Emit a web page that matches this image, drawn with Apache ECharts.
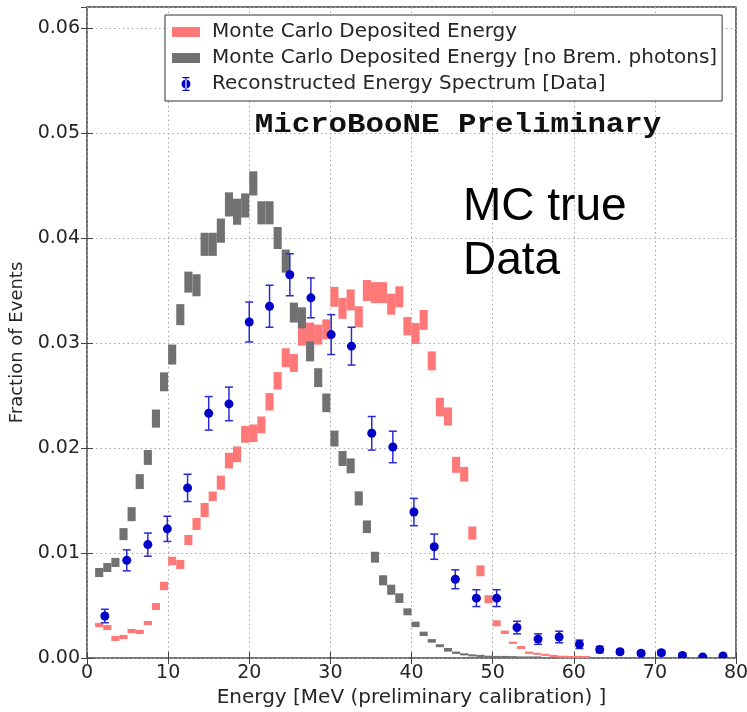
<!DOCTYPE html>
<html>
<head>
<meta charset="utf-8">
<script src="https://cdn.jsdelivr.net/npm/echarts@6/dist/echarts.min.js"></script>
<style>
html,body{margin:0;padding:0;background:#fff;}
#chart{width:747px;height:712px;}
</style>
</head>
<body>
<div id="chart"></div>
<script>
// ---- data ----
const mcBinWidth = 1; // MeV
const mcBinLow = [1,2,3,4,5,6,7,8,9,10,11,12,13,14,15,16,17,18,19,20,21,22,23,24,25,26,27,28,29,30,
  31,32,33,34,35,36,37,38,39,40,41,42,43,44,45,46,47,48,49,50,51,52,53,54,55,56,57,58,59,60,61];

const mcDepVal = [0.00314,0.0029,0.00186,0.0020,0.00257,0.00248,0.00333,0.0049,0.00686,0.00924,
  0.0089,0.01124,0.01276,0.0141,0.0154,0.0167,0.0188,0.0194,0.0213,0.0214,
  0.0222,0.0244,0.0264,0.0286,0.0281,0.0307,0.0310,0.0308,0.0313,0.0344,
  0.0333,0.0341,0.0325,0.0350,0.0348,0.0348,0.0337,0.0344,0.0316,0.0309,
  0.0322,0.0283,0.0239,0.0230,0.0184,0.0175,0.0119,0.0083,0.0056,0.0033,
  0.00245,0.00145,0.0010,0.0005,0.0004,0.0003,0.0002,0.00012,0.0001,0.0001,0.0001];
const mcDepErr = [0.0002,0.00024,0.00024,0.0002,0.0002,0.0002,0.0002,0.00033,0.0004,0.0004,
  0.00043,0.00048,0.00057,0.00067,0.00045,0.00067,0.00075,0.00075,0.0008,0.00084,
  0.0008,0.00083,0.00083,0.0009,0.00085,0.00095,0.00095,0.00095,0.00095,0.00095,
  0.001,0.001,0.001,0.001,0.001,0.001,0.001,0.001,0.00087,0.001,
  0.00095,0.0009,0.00089,0.00086,0.00076,0.0007,0.00062,0.00052,0.00038,0.00029,
  0.00016,0.00011,0.00014,0.00011,0.0001,0.0001,0.0001,0.0001,0.0001,0.0001,0.0001];

const mcNoBremVal = [0.00814,0.00862,0.0091,0.0118,0.0137,0.0168,0.0191,0.0228,0.0263,0.0289,
  0.0327,0.0358,0.0355,0.0394,0.0394,0.0407,0.0432,0.0425,0.0431,0.0452,
  0.0424,0.0424,0.0400,0.0378,0.0329,0.0324,0.0292,0.0267,0.0243,0.0209,
  0.0190,0.0183,0.0152,0.0125,0.0096,0.0074,0.0065,0.0057,0.0044,0.0032,
  0.0023,0.00163,0.00117,0.00078,0.0005,0.00035,0.00025,0.0002,0.00012,0.0001,
  0.0001,0.00008,0.00005,0.00005,0.00005];
const mcNoBremErr = [0.00043,0.00043,0.00043,0.00057,0.00067,0.00071,0.00071,0.00086,0.0009,0.00095,
  0.001,0.001,0.00105,0.0011,0.0011,0.00115,0.00115,0.00124,0.00115,0.00115,
  0.0011,0.0011,0.00105,0.0011,0.00095,0.001,0.00095,0.0009,0.00089,0.00076,
  0.00071,0.00071,0.00067,0.0006,0.00052,0.00048,0.00048,0.00046,0.00033,0.00026,
  0.00021,0.00017,0.00014,0.00017,0.00011,0.0001,0.0001,0.0001,0.0001,0.0001,
  0.0001,0.0001,0.0001,0.0001,0.0001];

const dataE = [2.2,4.9,7.5,9.9,12.4,15.0,17.5,20.0,22.5,25.0,27.6,30.1,32.6,35.1,37.7,40.3,
  42.8,45.4,48.0,50.5,53.0,55.6,58.2,60.7,63.2,65.7,68.3,70.8,73.4,75.9,78.4];
const dataVal = [0.0040,0.0093,0.0108,0.0123,0.0162,0.0233,0.0242,0.0320,0.0335,0.0365,0.0343,
  0.0308,0.0297,0.0214,0.0201,0.0139,0.0106,0.0075,0.0057,0.0057,0.0029,0.0018,0.0020,
  0.0013,0.0008,0.0006,0.00045,0.0005,0.00025,0.0001,0.0002];
const dataErr = [0.00064,0.0010,0.0011,0.0012,0.0013,0.0016,0.0016,0.0019,0.0020,0.0020,0.0019,
  0.0019,0.0018,0.0016,0.0015,0.0013,0.0012,0.0009,0.0008,0.0008,0.0006,0.0005,0.00055,
  0.0004,0.0003,0.0002,0.0002,0.0002,0.00015,0.0001,0.0001];

const xTicks = [0,10,20,30,40,50,60,70,80];
const yTicks = [0.00,0.01,0.02,0.03,0.04,0.05,0.06];

// ---- styles ----
const RED = '#ff7878';
const GRAY = '#717171';
const BLUE = '#0000c8';
const BLUE_BAR = '#2a2ad4';
const TXT = '#262626';
const FONT = '"DejaVu Sans", sans-serif';

function boxSeriesData(lows, vals, errs) {
  return vals.map((v, i) => [lows[i], mcBinWidth, v, errs[i]]);
}
function boxRender(color) {
  return function (params, api) {
    const x0 = api.value(0), w = api.value(1), v = api.value(2), e = api.value(3);
    const p0 = api.coord([x0, v - e]);
    const p1 = api.coord([x0 + w, v + e]);
    const h = Math.max(p0[1] - p1[1], 1.5);
    return {
      type: 'rect',
      shape: { x: p0[0], y: p0[1] - h, width: p1[0] - p0[0], height: h },
      style: { fill: color }
    };
  };
}
function dataRender(params, api) {
  const x = api.value(0), v = api.value(1), e = api.value(2);
  const c = api.coord([x, v]);
  const t = api.coord([x, v + e]);
  const b = api.coord([x, v - e]);
  const cap = 4;
  const ls = { stroke: BLUE_BAR, lineWidth: 1.5 };
  return {
    type: 'group',
    children: [
      { type: 'line', shape: { x1: c[0], y1: t[1], x2: c[0], y2: b[1] }, style: ls },
      { type: 'line', shape: { x1: c[0] - cap, y1: t[1], x2: c[0] + cap, y2: t[1] }, style: ls },
      { type: 'line', shape: { x1: c[0] - cap, y1: b[1], x2: c[0] + cap, y2: b[1] }, style: ls },
      { type: 'circle', shape: { cx: c[0], cy: c[1], r: 4.5 }, style: { fill: BLUE } }
    ]
  };
}

const names = ['Monte Carlo Deposited Energy',
  'Monte Carlo Deposited Energy [no Brem. photons]',
  'Reconstructed Energy Spectrum [Data]'];

const rectIcon = 'path://M0,0h0.01v0.01h-0.01zM27.99,13.99h0.01v0.01h-0.01zM0,2h28v10h-28z';
const dataIcon = 'path://M0,7h0.01v0.01h-0.01zM27.99,7h0.01v0.01h-0.01zM13.4,0h1.2v14h-1.2zM10.5,0h7v1.2h-7zM10.5,12.8h7v1.2h-7zM18.5,7a4.5,4.5 0 1,0 -9,0a4.5,4.5 0 1,0 9,0z';

const chart = echarts.init(document.getElementById('chart'), null, { renderer: 'canvas' });
const isTick = (v, list) => list.some(t => Math.abs(t - v) < 1e-9);

chart.setOption({
  animation: false,
  backgroundColor: '#fff',
  grid: {
    left: 87, right: 11, top: 7, bottom: 54,
    containLabel: false, outerBoundsMode: 'none',
    show: true, borderColor: '#444', borderWidth: 1.5, backgroundColor: '#fff'
  },
  legend: {
    left: 165, top: 15, orient: 'vertical',
    padding: [7, 5, 7, 7],
    itemGap: 6, itemWidth: 28, itemHeight: 14,
    backgroundColor: '#fff', borderColor: '#333', borderWidth: 1, borderRadius: 0,
    textStyle: { fontFamily: FONT, fontSize: 20, color: TXT, lineHeight: 20, padding: [0, 0, 0, 7] },
    data: [
      { name: names[0], icon: rectIcon },
      { name: names[1], icon: rectIcon },
      { name: names[2], icon: dataIcon }
    ],
    selectedMode: false, z: 10
  },
  xAxis: [{
    type: 'value', min: 0, max: 80, interval: 10, position: 'bottom',
    axisLine: { show: false },
    axisTick: { show: true, inside: true, length: 6, lineStyle: { color: '#444', width: 1 } },
    axisLabel: { fontFamily: FONT, fontSize: 19, color: TXT, margin: 6,
      formatter: v => isTick(v, xTicks) ? String(v) : '' },
    splitLine: { show: true, lineStyle: { color: '#a8a8a8', type: [1.5, 3], width: 1 } },
    name: 'Energy [MeV (preliminary calibration) ]', nameLocation: 'middle', nameGap: 30,
    nameTextStyle: { fontFamily: FONT, fontSize: 20, color: TXT }
  }, {
    type: 'value', min: 0, max: 80, interval: 10, position: 'top',
    axisLine: { show: false },
    axisTick: { show: true, inside: true, length: 6, lineStyle: { color: '#444', width: 1 } },
    axisLabel: { show: false }, splitLine: { show: false }
  }],
  yAxis: [{
    type: 'value', min: 0, max: 0.062, interval: 0.01, position: 'left',
    axisLine: { show: false },
    axisTick: { show: true, inside: true, length: 6, lineStyle: { color: '#444', width: 1 } },
    axisLabel: { fontFamily: FONT, fontSize: 19, color: TXT, margin: 7, showMaxLabel: false,
      formatter: v => isTick(v, yTicks) ? v.toFixed(2) : '' },
    splitLine: { show: true, lineStyle: { color: '#a8a8a8', type: [1.5, 3], width: 1 } },
    name: 'Fraction of Events', nameLocation: 'middle', nameGap: 60,
    nameTextStyle: { fontFamily: FONT, fontSize: 18, color: TXT, padding: [0, 20, 0, 0] }
  }, {
    type: 'value', min: 0, max: 0.062, interval: 0.01, position: 'right',
    axisLine: { show: false },
    axisTick: { show: true, inside: true, length: 6, lineStyle: { color: '#444', width: 1 } },
    axisLabel: { show: false }, splitLine: { show: false }
  }],
  graphic: [
    {
      type: 'text', x: 458, y: 125, scaleX: 1.1, z: 5,
      style: { text: 'MicroBooNE Preliminary', font: 'bold 28px "Liberation Mono", monospace',
        fill: '#111', textAlign: 'center', textVerticalAlign: 'middle' }
    },
    {
      type: 'text', x: 463, y: 180, z: 5,
      style: { text: 'MC true\nData', font: '46px "Liberation Sans", Arial, sans-serif',
        lineHeight: 54, fill: '#000', textAlign: 'left', textVerticalAlign: 'top' }
    }
  ],
  series: [
    {
      name: names[0], type: 'custom', renderItem: boxRender(RED), clip: true,
      itemStyle: { color: RED },
      encode: { x: [0], y: [2] },
      data: boxSeriesData(mcBinLow, mcDepVal, mcDepErr)
    },
    {
      name: names[1], type: 'custom', renderItem: boxRender(GRAY), clip: true,
      itemStyle: { color: GRAY },
      encode: { x: [0], y: [2] },
      data: boxSeriesData(mcBinLow.slice(0, mcNoBremVal.length), mcNoBremVal, mcNoBremErr)
    },
    {
      name: names[2], type: 'custom', renderItem: dataRender, clip: true,
      itemStyle: { color: BLUE },
      encode: { x: [0], y: [1] },
      data: dataE.map((e, i) => [e, dataVal[i], dataErr[i]])
    }
  ]
});
</script>
</body>
</html>
